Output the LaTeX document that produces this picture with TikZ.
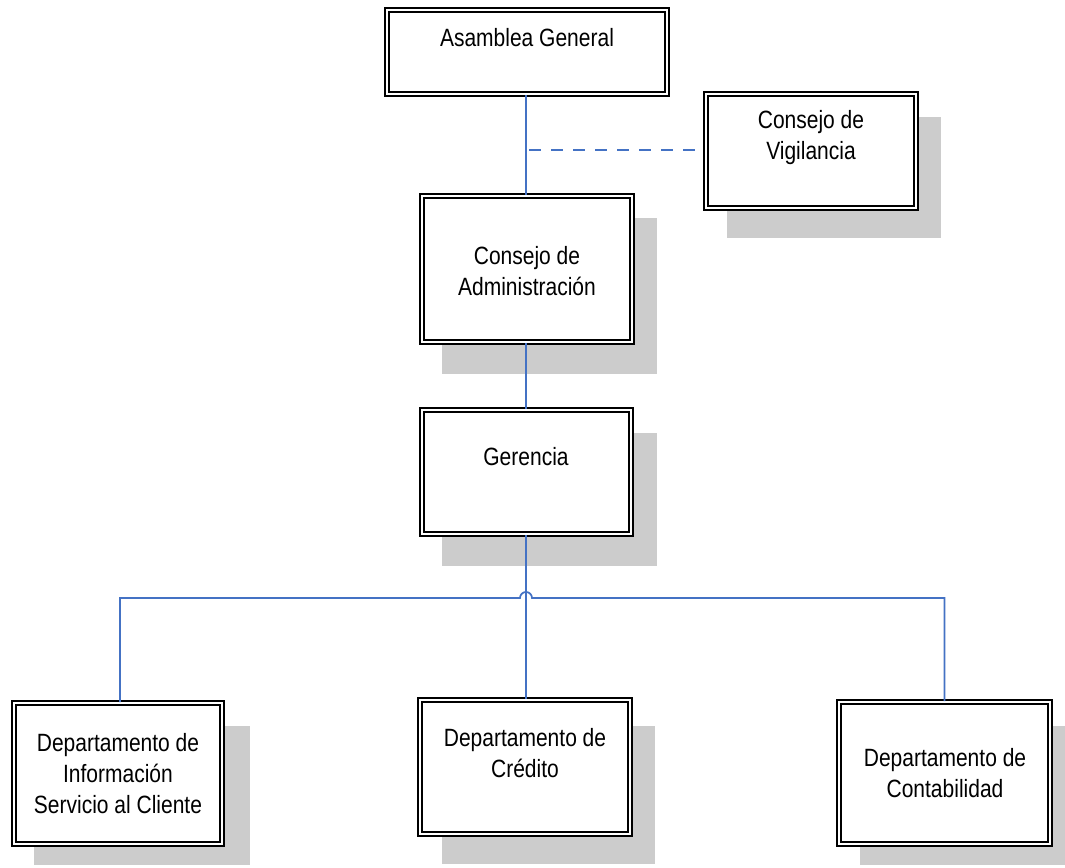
\documentclass[tikz,border=0pt]{standalone}
\usepackage{fontspec}
\setmainfont{Liberation Sans}[FakeStretch=0.84]
\definecolor{connblue}{HTML}{4472C4}
\definecolor{shadowgray}{HTML}{CCCCCC}
\begin{document}
\begin{tikzpicture}[x=1pt,y=-1pt,
  orgbox/.style={draw=black, double=white, double distance=2pt, line width=2pt, fill=white, rectangle, inner sep=0pt},
  lbl/.style={align=center, inner sep=0pt, font=\fontsize{25}{31}\selectfont},
  conn/.style={draw=connblue, line width=1.7pt},
  dconn/.style={draw=connblue, line width=2.2pt, dash pattern=on 12pt off 10pt}]
\useasboundingbox (0,0) rectangle (1065,867);
% shadows
\fill[shadowgray] (727,117) rectangle (941,238);
\fill[shadowgray] (442,218) rectangle (657,374);
\fill[shadowgray] (442,433) rectangle (657,566);
\fill[shadowgray] (34,726) rectangle (250,865);
\fill[shadowgray] (442,726) rectangle (655,864);
\fill[shadowgray] (860,726) rectangle (1065,865);
% helper points
\coordinate (bus) at (526,598);
\coordinate (dstart) at (529,150);
% boxes
\node[orgbox, minimum width=280pt, minimum height=84pt] (asam) at (527,52) {};
\node[orgbox, minimum width=210pt, minimum height=114pt] (vigil) at (811,151) {};
\node[orgbox, minimum width=210pt, minimum height=146pt] (admin) at (527,269) {};
\node[orgbox, minimum width=209pt, minimum height=124pt] (geren) at (526.5,472) {};
\node[orgbox, minimum width=208pt, minimum height=141pt] (info) at (118,773.5) {};
\node[orgbox, minimum width=210pt, minimum height=134pt] (cred) at (525,767) {};
\node[orgbox, minimum width=211pt, minimum height=142pt] (conta) at (944.5,773) {};
% labels
\node[lbl] (tasam) at (527,38) {Asamblea General};
\node[lbl] (tvigil) at (811,138) {Consejo de\\Vigilancia};
\node[lbl] (tadmin) at (527,271) {Consejo de\\Administración};
\node[lbl] (tgeren) at (526,457) {Gerencia};
\node[lbl] (tinfo) at (118,774) {Departamento de\\Información\\Servicio al Cliente};
\node[lbl] (tcred) at (525,753) {Departamento de\\Crédito};
\node[lbl] (tconta) at (945,773) {Departamento de\\Contabilidad};
% connectors
\draw[conn] (asam.south -| bus) -- (admin.north -| bus);
\draw[dconn] (dstart) -- (vigil.west |- dstart);
\draw[conn] (admin.south -| bus) -- (geren.north -| bus);
\draw[conn] (geren.south -| bus) -- (cred.north -| bus);
\draw[conn] (info.north -| 120,0) -- (120,598) -- ([xshift=-6pt]bus) arc[start angle=180, end angle=0, radius=6pt] -- (conta.north |- bus) -- (conta.north);
\end{tikzpicture}
\end{document}
